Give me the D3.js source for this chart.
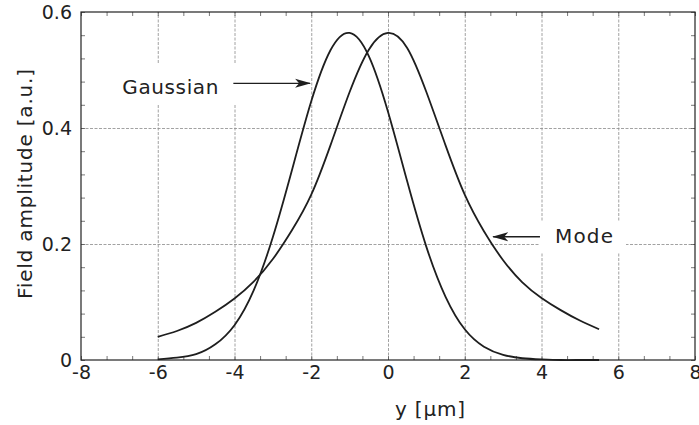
<!DOCTYPE html>
<html>
<head>
<meta charset="utf-8">
<script src="https://cdn.jsdelivr.net/npm/d3@7"></script>
<style>
  body { margin: 0; background: #fff; }
  svg { display: block; }
</style>
</head>
<body>
<div id="chart"></div>
<script>
// Data
const yPos = [-6, -5.5, -5, -4.5, -4, -3.5, -3, -2.5, -2, -1.5, -1, -0.5, 0, 0.5, 1, 1.5, 2, 2.5, 3, 3.5, 4, 4.5, 5, 5.5];
const gaussian = [0.001, 0.004, 0.010, 0.027, 0.060, 0.120, 0.212, 0.328, 0.446, 0.534, 0.564, 0.524, 0.428, 0.308, 0.195, 0.109, 0.053, 0.023, 0.009, 0.003, 0.001, 0, 0, 0];
const mode = [0.040, 0.050, 0.064, 0.083, 0.106, 0.135, 0.174, 0.224, 0.285, 0.370, 0.462, 0.535, 0.564, 0.538, 0.462, 0.370, 0.285, 0.222, 0.172, 0.134, 0.107, 0.086, 0.068, 0.053];

const xTicks = [-8, -6, -4, -2, 0, 2, 4, 6, 8];
const yTicks = [0, 0.2, 0.4, 0.6];
const yTickLabels = ["0", "0.2", "0.4", "0.6"];

// annotations: label, arrow start, arrow tip (data units)
const notes = [
  { text: "Gaussian", from: [-4.03, 0.477], to: [-2.03, 0.477], side: "left", dy: 11, len: 96 },
  { text: "Mode", from: [3.96, 0.2125], to: [2.74, 0.2125], side: "right", dy: 6.5, len: 58 }
];

const width = 699, height = 425;
const m = { left: 81, right: 4, top: 12, bottom: 65 };
const font = "'DejaVu Sans', Verdana, sans-serif";
const ink = "#222";

const svg = d3.select("#chart").append("svg")
  .attr("width", width)
  .attr("height", height);

const x = d3.scaleLinear().domain([-8, 8]).range([m.left, width - m.right]);
const y = d3.scaleLinear().domain([0, 0.6]).range([height - m.bottom, m.top]);

const plotH = y(0) - y(0.6);
const plotW = x(8) - x(-8);

// grid
const gx = svg.append("g")
  .attr("transform", `translate(0,${y(0)})`)
  .call(d3.axisBottom(x).tickValues(xTicks.slice(1, -1)).tickSize(-plotH).tickFormat(""));
const gy = svg.append("g")
  .attr("transform", `translate(${x(-8)},0)`)
  .call(d3.axisLeft(y).tickValues(yTicks.slice(1, -1)).tickSize(-plotW).tickFormat(""));
[gx, gy].forEach((g) => {
  g.select(".domain").remove();
  g.selectAll("line")
    .attr("stroke", "#8a8a8a")
    .attr("stroke-width", 0.8)
    .attr("stroke-dasharray", "3,1.5");
});

// minor ticks on all four sides, pointing in
const xMinor = d3.range(-8, 8.01, 2 / 3);
const yMinor = d3.range(0, 0.601, 0.04);
const minor = [
  svg.append("g").attr("transform", `translate(0,${y(0)})`).call(d3.axisBottom(x).tickValues(xMinor).tickSize(-4).tickFormat("")),
  svg.append("g").attr("transform", `translate(0,${y(0.6)})`).call(d3.axisTop(x).tickValues(xMinor).tickSize(-4).tickFormat("")),
  svg.append("g").attr("transform", `translate(${x(-8)},0)`).call(d3.axisLeft(y).tickValues(yMinor).tickSize(-4).tickFormat("")),
  svg.append("g").attr("transform", `translate(${x(8)},0)`).call(d3.axisRight(y).tickValues(yMinor).tickSize(-4).tickFormat(""))
];
minor.forEach((g) => {
  g.select(".domain").remove();
  g.selectAll("line").attr("stroke", "#555").attr("stroke-width", 0.8);
});

// tick labels
const xl = svg.append("g")
  .attr("transform", `translate(0,${y(0)})`)
  .call(d3.axisBottom(x).tickValues(xTicks).tickSize(0).tickPadding(6).tickFormat((d) => (d < 0 ? "-" + Math.abs(d) : String(d))));
const yl = svg.append("g")
  .attr("transform", `translate(${x(-8)},0)`)
  .call(d3.axisLeft(y).tickValues(yTicks).tickSize(0).tickPadding(9).tickFormat((d, i) => yTickLabels[i]));
[xl, yl].forEach((g) => {
  g.select(".domain").remove();
  g.selectAll("text")
    .style("font-family", font)
    .style("font-size", "19px")
    .attr("fill", ink);
});

// annotation backgrounds (they cut the grid)
svg.append("rect").attr("x", 112).attr("y", 64).attr("width", 128).attr("height", 40).attr("fill", "#fff");
svg.append("rect").attr("x", 540).attr("y", 222).attr("width", 86).attr("height", 30).attr("fill", "#fff");

// frame
svg.append("rect")
  .attr("x", x(-8)).attr("y", y(0.6))
  .attr("width", plotW).attr("height", plotH)
  .attr("fill", "none")
  .attr("stroke", ink)
  .attr("stroke-width", 1.2);

// curves
const line = d3.line()
  .x((d) => x(d[0]))
  .y((d) => y(d[1]))
  .curve(d3.curveNatural);

[gaussian, mode].forEach((vals) => {
  svg.append("path")
    .datum(yPos.map((p, i) => [p, vals[i]]))
    .attr("d", line)
    .attr("fill", "none")
    .attr("stroke", "#1e1e1e")
    .attr("stroke-width", 1.8);
});

// arrows
svg.append("defs").append("marker")
  .attr("id", "arrow")
  .attr("viewBox", "0 0 16 10")
  .attr("refX", 15)
  .attr("refY", 5)
  .attr("markerUnits", "userSpaceOnUse")
  .attr("markerWidth", 16)
  .attr("markerHeight", 10)
  .attr("orient", "auto")
  .append("path")
  .attr("d", "M0,0.5 L16,5 L0,9.5 L4,5 Z")
  .attr("fill", "#1e1e1e");

notes.forEach((n) => {
  svg.append("line")
    .attr("x1", x(n.from[0])).attr("y1", y(n.from[1]))
    .attr("x2", x(n.to[0])).attr("y2", y(n.to[1]))
    .attr("stroke", "#1e1e1e")
    .attr("stroke-width", 1.3)
    .attr("marker-end", "url(#arrow)");
  svg.append("text")
    .attr("x", n.side === "left" ? x(n.from[0]) - 15 : x(n.from[0]) + 15)
    .attr("y", y(n.from[1]) + n.dy)
    .attr("text-anchor", n.side === "left" ? "end" : "start")
    .attr("textLength", n.len)
    .attr("lengthAdjust", "spacing")
    .style("font-family", font)
    .style("font-size", "20px")
    .attr("fill", ink)
    .text(n.text);
});

// axis titles
svg.append("text")
  .attr("x", 430)
  .attr("y", 416)
  .attr("text-anchor", "middle")
  .attr("textLength", 70)
  .attr("lengthAdjust", "spacing")
  .style("font-family", font)
  .style("font-size", "20px")
  .attr("fill", ink)
  .text("y [μm]");

svg.append("text")
  .attr("transform", `translate(32,184) rotate(-90)`)
  .attr("text-anchor", "middle")
  .attr("textLength", 230)
  .attr("lengthAdjust", "spacing")
  .style("font-family", font)
  .style("font-size", "20px")
  .attr("fill", ink)
  .text("Field amplitude [a.u.]");
</script>
</body>
</html>
